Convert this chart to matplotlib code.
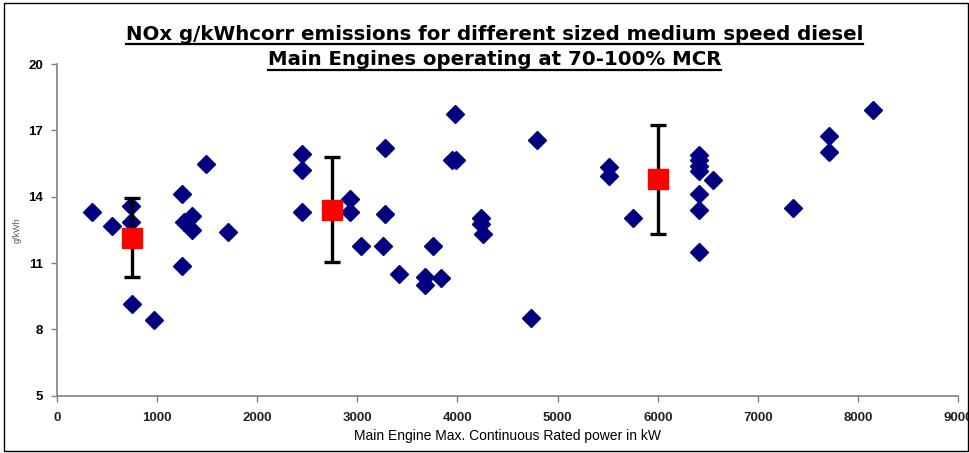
import numpy as np
import matplotlib.pyplot as plt
from matplotlib.patches import Rectangle
from matplotlib.lines import Line2D

# engine power (kW) and NOx (g/kWh) of each engine
kw = [350, 550, 735, 735, 752, 972, 1252, 1252, 1272, 1352, 1352, 1492, 1712,
      2452, 2452, 2452, 2930, 2930, 3032, 3275, 3275, 3252, 3412, 3675, 3675,
      3752, 3832, 3972, 3945, 3985, 4232, 4232, 4252, 4732, 4792, 5515, 5515,
      5752, 6412, 6412, 6412, 6412, 6412, 6412, 6412, 6552, 7352, 7712, 7712, 8152]
nox = [13.32, 12.68, 13.59, 12.86, 9.14, 8.42, 14.12, 10.86, 12.86, 13.14, 12.49, 15.48, 12.40,
       15.93, 15.20, 13.32, 13.88, 13.29, 11.78, 16.20, 13.23, 11.78, 10.51, 10.35, 10.01,
       11.78, 10.32, 17.75, 15.67, 15.67, 13.06, 12.76, 12.31, 8.52, 16.56, 15.33, 14.92,
       13.05, 15.88, 15.66, 15.38, 15.17, 14.13, 13.39, 11.49, 14.76, 13.50, 16.76, 16.03, 17.93]

# group means with spread
grp_kw = [750, 2750, 6000]
grp_mean = [12.15, 13.42, 14.78]
grp_err = [1.8, 2.36, 2.45]

fnt = ['Liberation Sans', 'DejaVu Sans']

fig = plt.figure(figsize=(9.69, 4.53), dpi=100)
ax = fig.add_axes([0.0588, 0.1265, 0.93, 0.732])

ax.plot(kw, nox, 'D', color='#000080', ms=9, zorder=3)
ax.errorbar(grp_kw, grp_mean, yerr=grp_err, fmt='s', color='red', ms=14,
            ecolor='black', elinewidth=2.4, capsize=6, capthick=2.4, zorder=4)

ax.set_xlim(0, 9000)
ax.set_ylim(5, 20)
ax.set_xticks(range(0, 9001, 1000))
ax.set_yticks([5, 8, 11, 14, 17, 20])
for s in ['top', 'right']:
    ax.spines[s].set_visible(False)
for s in ['left', 'bottom']:
    ax.spines[s].set_color('#808080')
    ax.spines[s].set_linewidth(1.2)
ax.tick_params(axis='x', colors='#808080', length=4, width=1, direction='out', pad=8)
ax.tick_params(axis='y', colors='#808080', length=4, width=1, direction='out', pad=6)
for lab in ax.get_xticklabels():
    lab.set_family(fnt)
    lab.set_fontsize(9.5)
    lab.set_fontweight('bold')
    lab.set_color('#222222')
for lab in ax.get_yticklabels():
    lab.set_family(fnt)
    lab.set_fontsize(9.5)
    lab.set_fontweight('bold')
    lab.set_color('black')

ax.set_xlabel('Main Engine Max. Continuous Rated power in kW', family=fnt,
              fontsize=10, labelpad=3)
ax.set_ylabel('g/kWh', family=fnt, fontsize=6.5, color='#555555', labelpad=5)

t1 = fig.text(0.51, 0.912, 'NOx g/kWhcorr emissions for different sized medium speed diesel',
              ha='center', va='baseline', family='DejaVu Sans', fontsize=14.2, fontweight='bold')
t2 = fig.text(0.51, 0.856, 'Main Engines operating at 70-100% MCR',
              ha='center', va='baseline', family='DejaVu Sans', fontsize=14.2, fontweight='bold')

# underline the title lines
fig.canvas.draw()
r = fig.canvas.get_renderer()
for t in (t1, t2):
    bb = t.get_window_extent(r).transformed(fig.transFigure.inverted())
    y = t.get_position()[1] - 0.01
    fig.add_artist(Line2D([bb.x0, bb.x1], [y, y], color='black', lw=1.6,
                          transform=fig.transFigure))

# frame around the chart
fig.add_artist(Rectangle((0.004, 0.004), 0.995, 0.99, fill=False, edgecolor='black',
                         lw=1, transform=fig.transFigure))

fig.savefig('out.png', dpi=100)
